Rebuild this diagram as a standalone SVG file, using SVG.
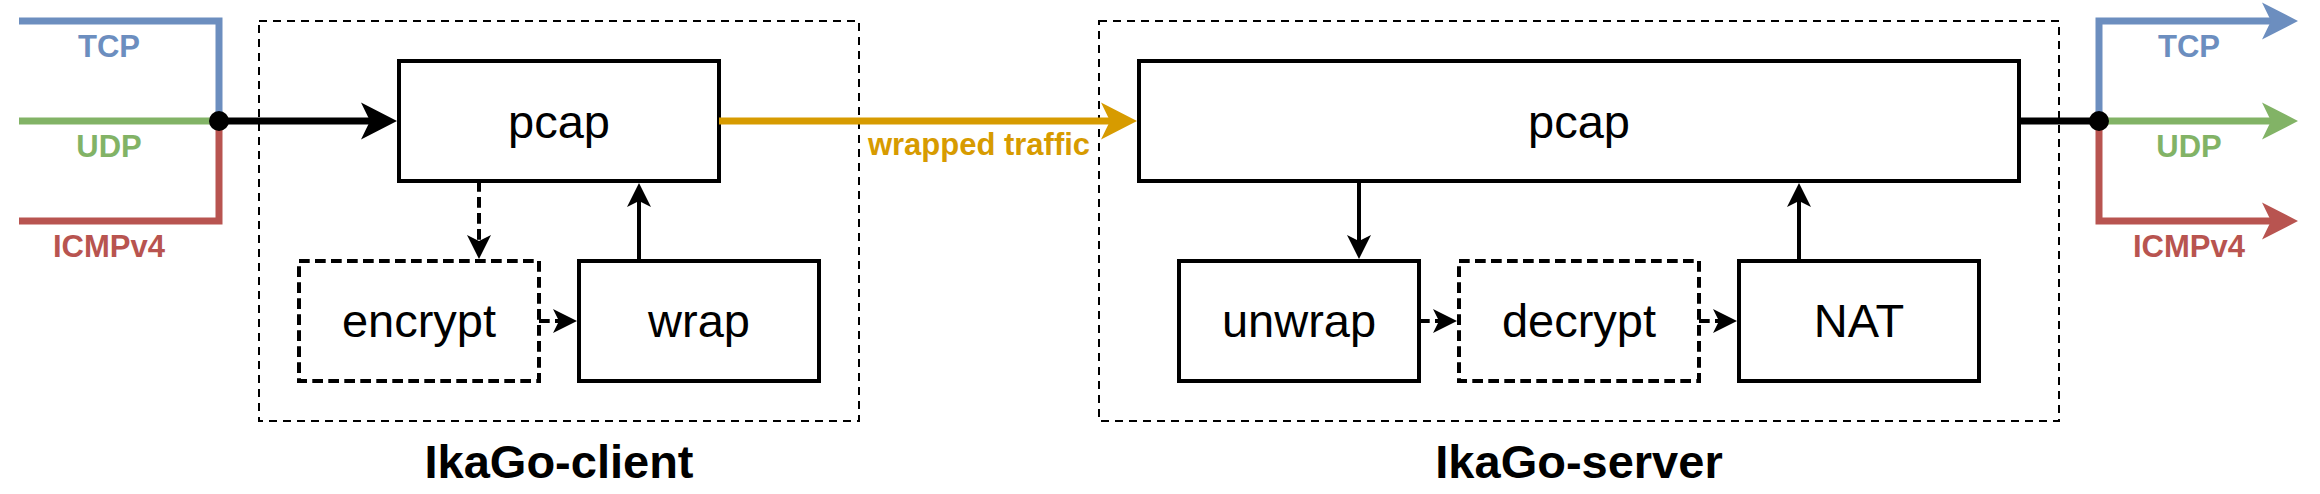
<svg xmlns="http://www.w3.org/2000/svg" width="2320" height="494" viewBox="0 0 2320 494">
<style>
.box{fill:#fff;stroke:#000;stroke-width:4}
.dbox{fill:#fff;stroke:#000;stroke-width:4;stroke-dasharray:10.7 5.3}
.group{fill:none;stroke:#000;stroke-width:2;stroke-dasharray:8 6}
.lbl{font-family:"Liberation Sans",Arial,sans-serif;font-size:47px;text-anchor:middle;fill:#000}
.title{font-family:"Liberation Sans",Arial,sans-serif;font-size:47px;font-weight:bold;text-anchor:middle;fill:#000}
.proto{font-family:"Liberation Sans",Arial,sans-serif;font-size:31px;font-weight:bold;text-anchor:middle}
.thin{fill:none;stroke:#000;stroke-width:4}
.thind{fill:none;stroke:#000;stroke-width:4;stroke-dasharray:10.7 5.3}
.thick{fill:none;stroke-width:7;stroke-linejoin:miter;stroke-linecap:butt}
</style>

<g id="client-group">
<rect class="group" x="259" y="21" width="600" height="400"/>
<text class="title" x="559" y="478">IkaGo-client</text>
</g>
<g id="server-group">
<rect class="group" x="1099" y="21" width="960" height="400"/>
<text class="title" x="1579" y="478">IkaGo-server</text>
</g>

<g id="client-pcap">
<rect class="box" x="399" y="61" width="320" height="120"/>
<text class="lbl" x="559" y="137.5">pcap</text>
</g>
<g id="encrypt">
<rect class="dbox" x="299" y="261" width="240" height="120"/>
<text class="lbl" x="419" y="337">encrypt</text>
</g>
<g id="wrap">
<rect class="box" x="579" y="261" width="240" height="120"/>
<text class="lbl" x="699" y="337">wrap</text>
</g>

<g id="server-pcap">
<rect class="box" x="1139" y="61" width="880" height="120"/>
<text class="lbl" x="1579" y="137.5">pcap</text>
</g>
<g id="unwrap">
<rect class="box" x="1179" y="261" width="240" height="120"/>
<text class="lbl" x="1299" y="337">unwrap</text>
</g>
<g id="decrypt">
<rect class="dbox" x="1459" y="261" width="240" height="120"/>
<text class="lbl" x="1579" y="337">decrypt</text>
</g>
<g id="nat">
<rect class="box" x="1739" y="261" width="240" height="120"/>
<text class="lbl" x="1859" y="337">NAT</text>
</g>

<g id="connectors">
<!-- left inputs -->
<path class="thick" stroke="#6c8ebf" d="M19,21 H219 V121"/>
<path class="thick" stroke="#82b366" d="M19,121 H219"/>
<path class="thick" stroke="#b85450" d="M19,221 H219 V121"/>
<path class="thick" stroke="#000" d="M219,121 H372"/>
<polygon fill="#000" points="397,121 361,102.5 370,121 361,139.5"/>
<circle cx="219" cy="121" r="10" fill="#000"/>
<text class="proto" fill="#6c8ebf" x="109" y="57">TCP</text>
<text class="proto" fill="#82b366" x="109" y="157">UDP</text>
<text class="proto" fill="#b85450" x="109" y="257">ICMPv4</text>

<!-- wrapped traffic -->
<path class="thick" stroke="#d79b00" d="M719,121 H1112"/>
<polygon fill="#d79b00" points="1137,121 1101,102.5 1110,121 1101,139.5"/>
<text class="proto" fill="#d79b00" x="979" y="155">wrapped traffic</text>

<!-- client internal -->
<path class="thind" d="M479,181 V243"/>
<polygon fill="#000" points="479,259 467,235 479,241 491,235"/>
<path class="thind" d="M539,321 H561"/>
<polygon fill="#000" points="577,321 553,309 559,321 553,333"/>
<path class="thin" d="M639,261 V199"/>
<polygon fill="#000" points="639,183 627,207 639,201 651,207"/>

<!-- server internal -->
<path class="thin" d="M1359,181 V243"/>
<polygon fill="#000" points="1359,259 1347,235 1359,241 1371,235"/>
<path class="thind" d="M1419,321 H1441"/>
<polygon fill="#000" points="1457,321 1433,309 1439,321 1433,333"/>
<path class="thind" d="M1699,321 H1721"/>
<polygon fill="#000" points="1737,321 1713,309 1719,321 1713,333"/>
<path class="thin" d="M1799,261 V199"/>
<polygon fill="#000" points="1799,183 1787,207 1799,201 1811,207"/>

<!-- right outputs -->
<path class="thick" stroke="#000" d="M2019,121 H2099"/>
<path class="thick" stroke="#6c8ebf" d="M2099,121 V21 H2273"/>
<polygon fill="#6c8ebf" points="2298,21 2262,2.5 2271,21 2262,39.5"/>
<path class="thick" stroke="#82b366" d="M2099,121 H2273"/>
<polygon fill="#82b366" points="2298,121 2262,102.5 2271,121 2262,139.5"/>
<path class="thick" stroke="#b85450" d="M2099,121 V221 H2273"/>
<polygon fill="#b85450" points="2298,221 2262,202.5 2271,221 2262,239.5"/>
<circle cx="2099" cy="121" r="10" fill="#000"/>
<text class="proto" fill="#6c8ebf" x="2189" y="57">TCP</text>
<text class="proto" fill="#82b366" x="2189" y="157">UDP</text>
<text class="proto" fill="#b85450" x="2189" y="257">ICMPv4</text>
</g>
</svg>
